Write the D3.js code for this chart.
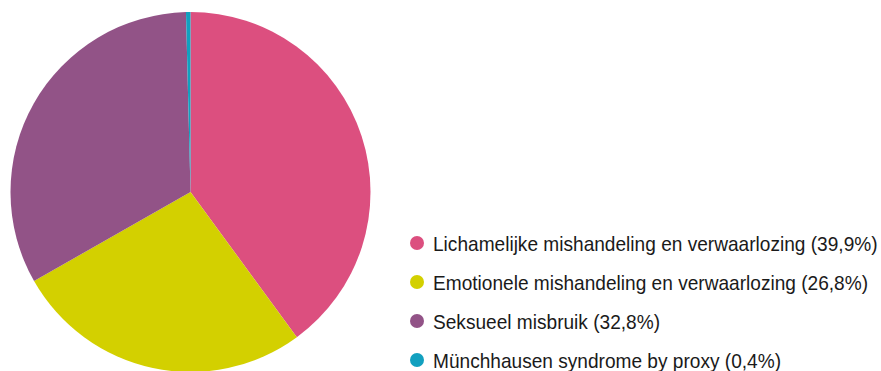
<!DOCTYPE html>
<html>
<head>
<meta charset="utf-8">
<script src="https://cdn.jsdelivr.net/npm/d3@7"></script>
<style>
  html, body { margin: 0; padding: 0; background: #fff; }
  svg { display: block; }
</style>
</head>
<body>
<svg id="chart" width="881" height="371"></svg>
<script>
// Verdeling van vormen van kindermishandeling (percentages)
const categories = [
  "Lichamelijke mishandeling en verwaarlozing",
  "Emotionele mishandeling en verwaarlozing",
  "Seksueel misbruik",
  "Münchhausen syndrome by proxy"
];
const values = [39.9, 26.8, 32.8, 0.4];
const valueLabels = ["39,9%", "26,8%", "32,8%", "0,4%"];
const colors = ["#dc4f7f", "#d3d000", "#925387", "#12a0bf"];

const svg = d3.select("#chart");

// Pie, clockwise from 12 o'clock, in data order
const cx = 190.5, cy = 192, r = 180;
const pie = d3.pie().sort(null).value(d => d.value);
const arc = d3.arc().innerRadius(0).outerRadius(r);
const data = categories.map((c, i) => ({ name: c, value: values[i], color: colors[i], label: valueLabels[i] }));

svg.append("g")
  .attr("transform", `translate(${cx},${cy})`)
  .selectAll("path")
  .data(pie(data))
  .join("path")
  .attr("d", arc)
  .attr("fill", d => d.data.color);

// Legend
const legendX = 417, legendY = 243, rowGap = 39;
const legend = svg.append("g");
const rows = legend.selectAll("g")
  .data(data)
  .join("g")
  .attr("transform", (d, i) => `translate(${legendX},${legendY + i * rowGap})`);

rows.append("circle")
  .attr("r", 7)
  .attr("fill", d => d.color);

const textGroup = rows.append("g").attr("class", "lbl");
const texts = textGroup.append("text")
  .attr("x", 0)
  .attr("y", 8)
  .attr("font-family", "'Liberation Sans', Arial, sans-serif")
  .attr("font-size", 20.5)
  .attr("fill", "#1a1a1a")
  .text(d => `${d.name} (${d.label})`);

// Narrow the legend type to a condensed width
const w0 = texts.nodes()[0].getComputedTextLength();
const sx = 445 / w0;
textGroup.attr("transform", `translate(16,0) scale(${sx},1)`);
</script>
</body>
</html>
